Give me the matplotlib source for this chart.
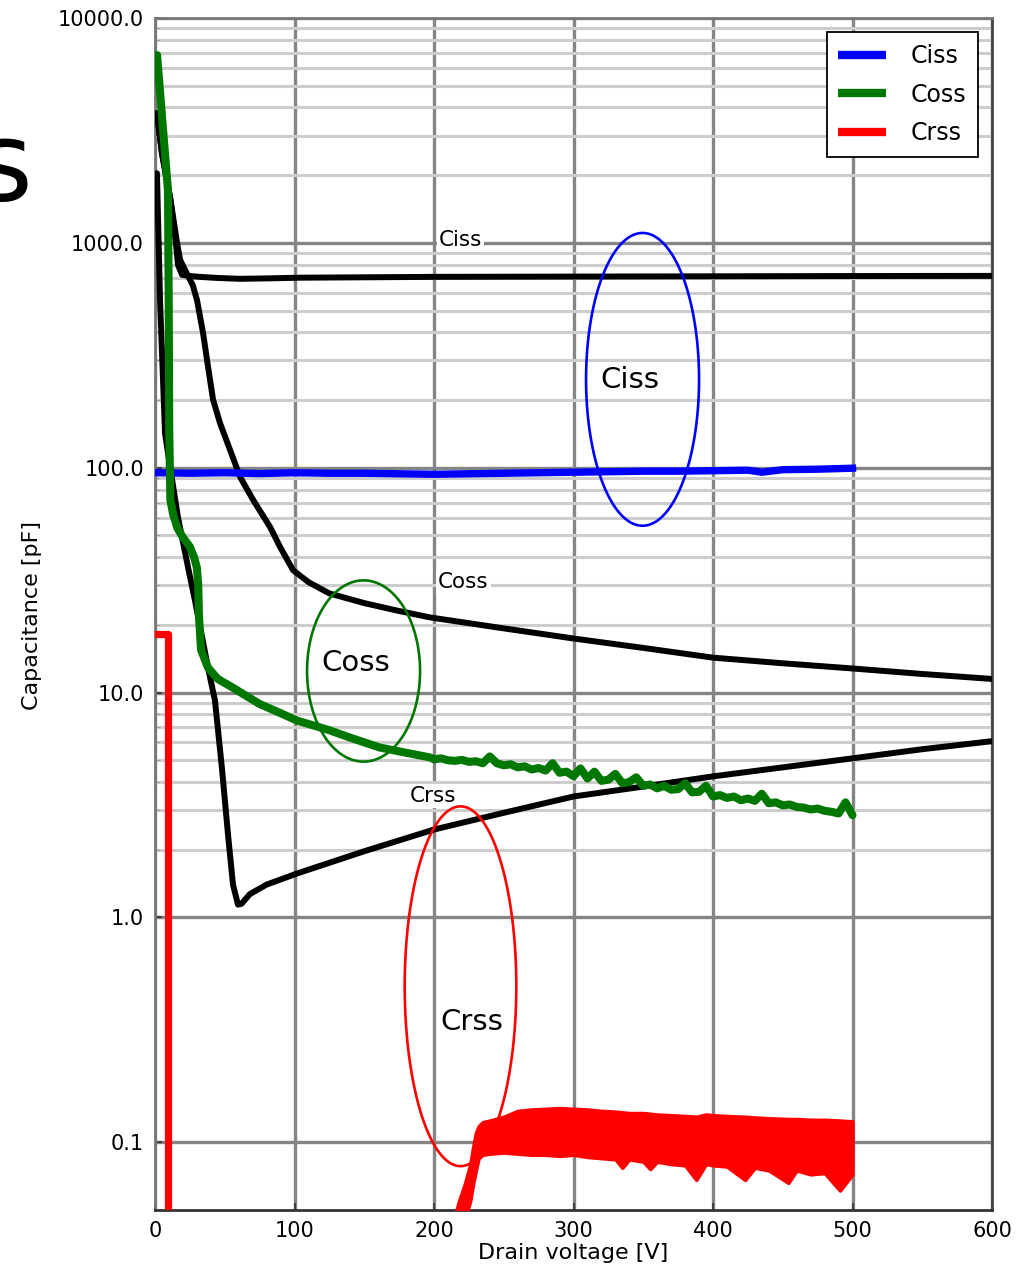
import numpy as np
import matplotlib
matplotlib.use("Agg")
import matplotlib.pyplot as plt
from matplotlib.patches import Polygon
from matplotlib.ticker import FixedLocator, FixedFormatter, NullFormatter

# ---------------- data ----------------
# datasheet curves (black)
ciss_ds_v = [1.4, 5, 10.8, 15, 16.5, 19.4, 25, 32, 45, 61, 80, 104, 200, 300, 400, 500, 600]
ciss_ds_c = [3775, 2500, 1597, 1000, 798, 721, 712, 706, 698, 692, 695, 700, 706, 708, 710, 712, 713]

coss_ds_v = [1.4, 5, 10.8, 15.8, 18, 21.5, 27, 30.1, 34.4, 38, 41.6, 46.6, 53.8, 61, 70.3,
             82.4, 89.6, 99, 110, 125, 150, 173, 197, 250, 300, 350, 400, 450, 500, 550, 600]
coss_ds_c = [3775, 2500, 1597, 1000, 840, 758, 650, 557, 399, 282, 201, 158, 120, 91, 72,
             54.6, 44.5, 35, 31, 27.6, 25, 23.2, 21.6, 19.3, 17.4, 15.8, 14.3, 13.5, 12.8,
             12.1, 11.5]

crss_ds_v = [1.4, 3.6, 7.2, 10.8, 16.5, 23.7, 28.7, 38, 43, 48, 52.3, 55.9, 59.5, 62, 68, 80,
             102, 150, 200, 250, 300, 350, 400, 450, 500, 550, 600]
crss_ds_c = [2040, 555, 142, 101, 60, 36, 25.6, 12.9, 9.2, 4.6, 2.35, 1.40, 1.14, 1.15, 1.27, 1.40,
             1.57, 1.97, 2.46, 2.92, 3.45, 3.82, 4.24, 4.65, 5.1, 5.6, 6.08]

# measured Ciss (blue)
ciss_v = [1, 25, 50, 75, 100, 125, 150, 175, 200, 225, 250, 275, 300, 325, 350, 375, 400,
          425, 435, 450, 475, 500]
ciss_c = [95, 94.5, 95, 94.2, 95, 94.5, 94.5, 94, 93.5, 94, 94.5, 95, 95.5, 96, 96.5, 96.5,
          97, 97.5, 95.5, 98, 98.5, 99.5]

# measured Coss (green)
coss_v = [1.5, 5, 9.3, 9.8, 10.2, 11, 13, 16, 20, 25, 28, 30, 31, 31.5, 33, 38, 45, 56, 65,
          75, 90, 102, 115, 125, 140, 161, 180, 197,
          200, 205, 210, 215, 220, 225, 230, 235, 240, 245, 250, 255, 260, 265, 270, 275,
          280, 285, 290, 295, 300, 305, 310, 315, 320, 325, 330, 335, 340, 345, 350, 355,
          360, 365, 370, 375, 380, 385, 390, 395, 400, 405, 410, 415, 420, 425, 430, 435,
          440, 445, 450, 455, 460, 465, 470, 475, 480, 485, 490, 495, 500]
coss_c = [6840, 3660, 1714, 600, 150, 72, 62, 54, 49, 44.5, 40, 36, 30, 22, 15.5, 12.9, 11.5,
          10.5, 9.7, 8.9, 8.1, 7.5, 7.1, 6.8, 6.3, 5.7, 5.4, 5.15,
          5.05, 5.1, 5.0, 4.97, 5.02, 4.92, 4.95, 4.85, 5.2, 4.85, 4.75, 4.8, 4.65, 4.7, 4.55,
          4.62, 4.5, 4.85, 4.4, 4.45, 4.25, 4.6, 4.15, 4.45, 4.05, 4.1, 4.35, 3.95, 4.0, 4.2,
          3.85, 3.9, 3.75, 3.85, 3.7, 3.72, 3.95, 3.6, 3.62, 3.85, 3.45, 3.5, 3.4, 3.45, 3.32,
          3.38, 3.3, 3.55, 3.22, 3.25, 3.15, 3.18, 3.1, 3.08, 3.02, 3.05, 2.98, 2.95, 2.9,
          3.25, 2.85]

# measured Crss (red): low-voltage step, then noisy band
crss_step_v = [1.4, 9.0, 9.0]
crss_step_c = [18.3, 18.3, 0.01]
crss_v = [214, 218, 222, 226, 228, 230, 232, 235, 240, 250, 260, 270, 280, 290, 300, 310,
          320, 330, 335, 340, 350, 355, 360, 370, 380, 388, 395, 400, 410, 423, 430, 440,
          454, 460, 470, 480, 491, 500]
crss_hi = [0.045, 0.055, 0.065, 0.08, 0.095, 0.11, 0.118, 0.123, 0.125, 0.13, 0.138, 0.14,
           0.141, 0.142, 0.141, 0.14, 0.138, 0.137, 0.136, 0.135, 0.135, 0.134, 0.133, 0.132,
           0.131, 0.13, 0.133, 0.132, 0.131, 0.13, 0.129, 0.128, 0.127, 0.127, 0.126, 0.126,
           0.125, 0.124]
crss_lo = [0.03, 0.03, 0.045, 0.055, 0.065, 0.075, 0.085, 0.088, 0.089, 0.09, 0.089, 0.088,
           0.088, 0.087, 0.088, 0.086, 0.085, 0.084, 0.077, 0.084, 0.082, 0.076, 0.082, 0.08,
           0.079, 0.068, 0.08, 0.079, 0.078, 0.068, 0.077, 0.075, 0.066, 0.075, 0.072, 0.073,
           0.061, 0.072]

# annotation ellipses: (centre V, centre log10 C, half-width V, half-height decades)
ell_names = ["Ciss", "Coss", "Crss"]
ell_colors = ["#0000ff", "#007700", "#ff0000"]
ell_cv = [349.5, 149.5, 219.0]
ell_clog = [2.393, 1.096, -0.306]
ell_a = [40.5, 40.5, 40.0]
ell_b = [0.651, 0.403, 0.800]
ell_text_v = [340.5, 144.0, 227.0]
ell_text_c = [245, 13.6, 0.344]

# datasheet curve labels
ds_labels = ["Ciss", "Coss", "Crss"]
ds_label_v = [219, 221, 199]
ds_label_c = [1031, 30.9, 3.46]

x_ticks = [0, 100, 200, 300, 400, 500, 600]
y_ticks = [0.1, 1.0, 10.0, 100.0, 1000.0, 10000.0]
y_ticklabels = ["0.1", "1.0", "10.0", "100.0", "1000.0", "10000.0"]
minor_grid = [k * 10.0 ** e for e in range(0, 4) for k in range(2, 10)]

# ---------------- figure ----------------
W, H = 1028, 1266
fig = plt.figure(figsize=(W / 100, H / 100), dpi=100)
ax = fig.add_axes([155 / W, 1 - 1210 / H, (992 - 155) / W, (1210 - 18) / H])
ax.set_yscale("log")
ax.set_xlim(0, 600)
ax.set_ylim(0.05, 10000)

# grid
ax.set_xticks(x_ticks)
ax.yaxis.set_major_locator(FixedLocator(y_ticks))
ax.yaxis.set_major_formatter(FixedFormatter(y_ticklabels))
ax.yaxis.set_minor_locator(FixedLocator(minor_grid))
ax.yaxis.set_minor_formatter(NullFormatter())
ax.grid(True, which="major", axis="both", color="#858585", lw=2.4, zorder=0)
ax.grid(True, which="minor", axis="y", color="#cdcdcd", lw=2.2, zorder=0)
ax.set_axisbelow(True)
ax.tick_params(axis="both", which="major", direction="in", length=5, width=1.2,
               color="#333333", labelsize=15, pad=8)
ax.tick_params(axis="y", which="minor", direction="in", length=3, width=0.8, color="#999999")
for s in ax.spines.values():
    s.set_color("#777777")
    s.set_linewidth(2.0)
ax.spines["bottom"].set_color("#333333")
ax.spines["right"].set_color("#444444")

# datasheet curves
for v, c in [(ciss_ds_v, ciss_ds_c), (coss_ds_v, coss_ds_c), (crss_ds_v, crss_ds_c)]:
    ax.plot(v, c, color="black", lw=4.3, solid_joinstyle="round", solid_capstyle="round",
            zorder=3)

# measured curves
ax.plot(ciss_v, ciss_c, color="#0000ff", lw=5.3, zorder=4, label="Ciss",
        solid_joinstyle="round")
ax.plot(coss_v, coss_c, color="#007700", lw=5.8, zorder=4, label="Coss",
        solid_joinstyle="round", solid_capstyle="round")
ax.plot(crss_step_v, crss_step_c, color="#ff0000", lw=5.2, zorder=4, label="Crss",
        solid_joinstyle="round")
ax.fill_between(crss_v, crss_lo, crss_hi, color="#ff0000", lw=2.5, edgecolor="#ff0000",
                zorder=4)

# ellipses
t = np.linspace(0, 2 * np.pi, 361)
for cv, cl, a, b, col in zip(ell_cv, ell_clog, ell_a, ell_b, ell_colors):
    pts = np.column_stack([cv + a * np.cos(t), 10 ** (cl + b * np.sin(t))])
    ax.add_patch(Polygon(pts, closed=True, fill=False, edgecolor=col, lw=1.9, zorder=5))
for name, tv, tc in zip(ell_names, ell_text_v, ell_text_c):
    ax.text(tv, tc, name, fontsize=21, ha="center", va="center", zorder=6)

for name, tv, tc in zip(ds_labels, ds_label_v, ds_label_c):
    ax.text(tv, tc, name, fontsize=15.5, ha="center", va="center", zorder=2,
            bbox=dict(facecolor="white", edgecolor="none", pad=1.5))

leg = ax.legend(loc="upper right", fontsize=17, frameon=True, fancybox=False,
                edgecolor="black", framealpha=1, handlelength=2.0, handletextpad=1.05,
                labelspacing=0.62, borderaxespad=0.6, borderpad=0.5)
leg.get_frame().set_linewidth(1.3)
for line in leg.get_lines():
    line.set_linewidth(6)
    line.set_solid_capstyle("butt")
leg.set_zorder(10)

fig.text(32 / W, 1 - 615 / H, "Capacitance [pF]", rotation=90, ha="center", va="center",
         fontsize=16)
fig.text(573 / W, 1 - 1253 / H, "Drain voltage [V]", ha="center", va="center", fontsize=16)
fig.text(33 / W, 1 - 200 / H, "s", ha="right", va="baseline", fontsize=80)

fig.savefig("out.png", dpi=100)
